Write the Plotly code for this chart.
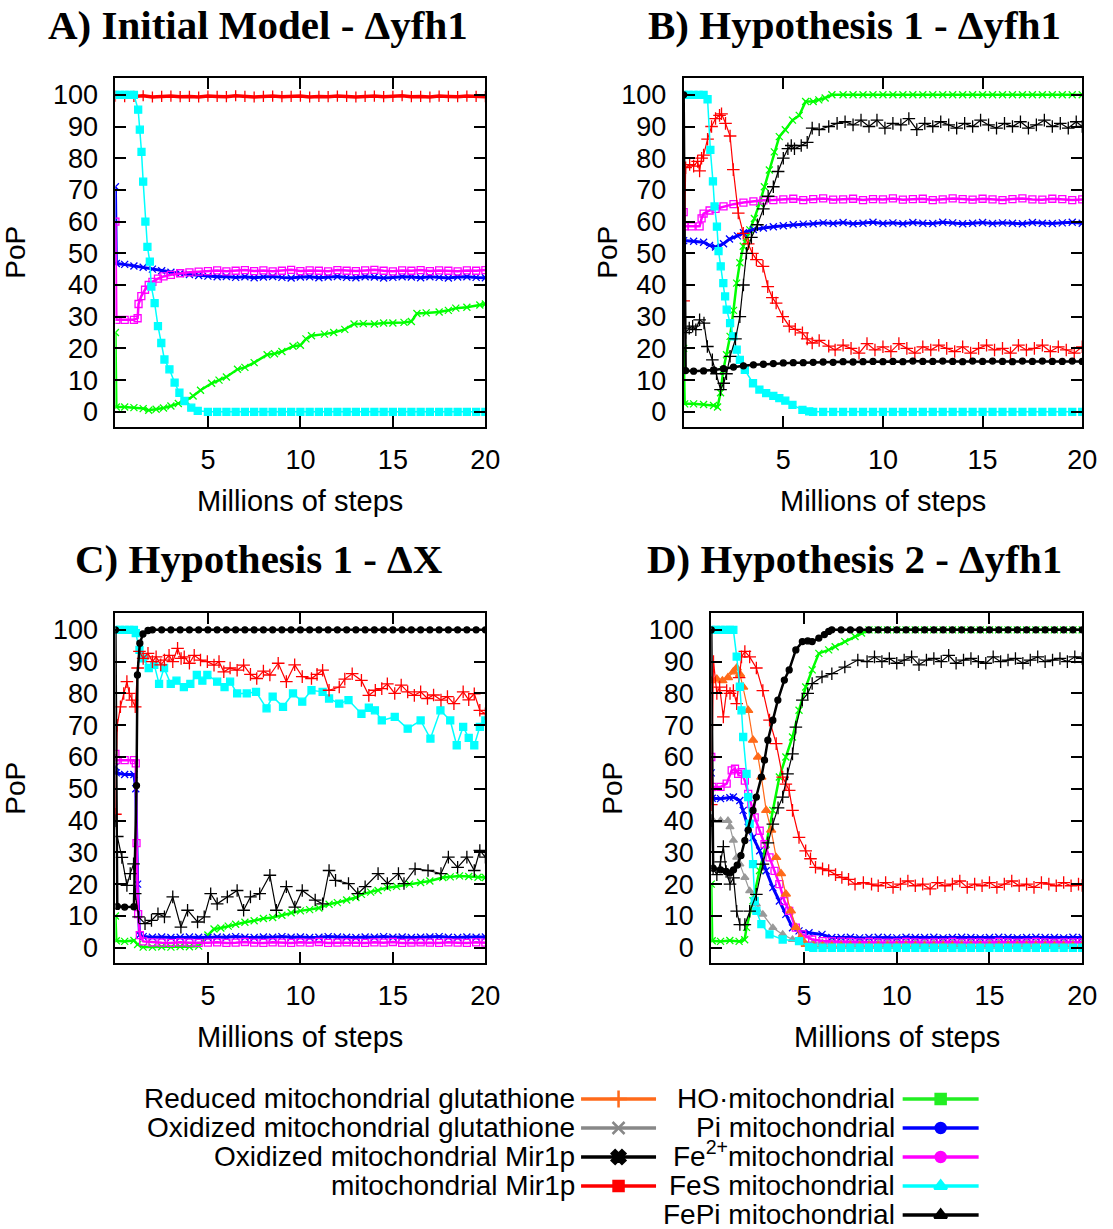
import plotly.graph_objects as go

W, H = 1113, 1229

# ---------------- shared x grid (half-million-step sampling) ----------------
X_HALF = [0, 0.5, 1, 1.5, 2, 2.5, 3, 3.5, 4, 4.5, 5, 5.5, 6, 6.5, 7, 7.5, 8, 8.5, 9, 9.5,
          10, 10.5, 11, 11.5, 12, 12.5, 13, 13.5, 14, 14.5, 15, 15.5, 16, 16.5, 17, 17.5,
          18, 18.5, 19, 19.5, 20]
X_TICKS = [5, 10, 15, 20]
Y_TICKS = [0, 10, 20, 30, 40, 50, 60, 70, 80, 90, 100]

# ---------------- Panel A : Initial Model - Δyfh1 ----------------
A_red_x = X_HALF
A_red_y = [99.6, 99.4, 99.5, 99.7, 99.3, 99.5, 99.6, 99.4, 99.5, 99.3,
           99.6, 99.5, 99.4, 99.7, 99.5, 99.3, 99.5, 99.6, 99.4, 99.5,
           99.6, 99.3, 99.5, 99.4, 99.6, 99.5, 99.3, 99.5, 99.6, 99.4,
           99.5, 99.7, 99.4, 99.5, 99.3, 99.6, 99.5, 99.4, 99.6, 99.5, 99.4]
A_cyan_x = [0, 0.25, 0.5, 0.75, 1.0, 1.23, 1.32, 1.41, 1.5, 1.62, 1.73, 1.86, 1.94, 2.12, 2.3,
            2.48, 2.65, 2.92, 3.2, 3.46, 3.73, 4.1, 4.45] + X_HALF[10:]
A_cyan_y = [100, 100, 100, 100, 100, 95.3, 89, 82, 72.6, 60, 52, 47.4, 39.5, 34.3, 27,
            21.7, 16.5, 13.4, 9.2, 6, 3.4, 1.3, 0.3,
            0, 0, 0, 0, 0, 0, 0, 0, 0, 0, 0, 0, 0, 0, 0, 0, 0, 0, 0, 0, 0, 0, 0, 0, 0, 0, 0, 0, 0, 0, 0]
A_blue_x = [0, 0.05] + X_HALF[1:]
A_blue_y = [71, 46.8, 46.5, 46.0, 45.6, 45.0, 44.5, 44.0, 43.6, 43.3, 43.0,
            42.8, 42.6, 42.7, 42.4, 42.6, 42.3, 42.5, 42.7, 42.4, 42.2, 42.5, 42.6, 42.3, 42.5,
            42.7, 42.4, 42.3, 42.6, 42.5, 42.2, 42.4, 42.6, 42.5, 42.3, 42.6, 42.4, 42.2, 42.5,
            42.6, 42.4, 42.3]
A_mag_x = [0, 0.05, 0.5, 1.0, 1.2, 1.25, 1.4, 1.6, 1.8, 2.0, 2.3, 2.6, 3.0, 3.5, 4.0, 4.5] + X_HALF[10:]
A_mag_y = [60, 29, 29, 29, 29.5, 34, 36.5, 38.5, 40, 41, 42, 42.7, 43.2, 43.7, 44, 44.2,
           44.4, 44.6, 44.3, 44.5, 44.7, 44.4, 44.6, 44.3, 44.5, 44.8, 44.4, 44.6, 44.5, 44.3,
           44.7, 44.5, 44.4, 44.6, 44.8, 44.5, 44.3, 44.6, 44.5, 44.7, 44.4, 44.6, 44.5, 44.3,
           44.6, 44.5, 44.7]
A_green_x = [0, 0.05, 0.5, 1, 1.5, 1.8, 2.2, 2.6, 3.0, 3.4, 3.8, 4.2, 4.6, 5.2, 5.6, 6.0, 6.6,
             7.0, 7.5, 8.2, 8.6, 9.0, 9.6, 10.0, 10.3, 10.6, 11.3, 11.8, 12.4, 12.9, 13.4, 14.0,
             14.5, 15.0, 15.6, 16.0, 16.3, 16.8, 17.5, 18.0, 18.4, 19.0, 19.7, 20]
A_green_y = [25, 1.5, 1.5, 1.3, 1.0, 0.5, 0.8, 1.2, 1.8, 2.6, 3.5, 5, 6.8, 9, 10, 11, 13.4,
             14, 15.5, 18, 18.3, 19, 20.7, 21, 23, 24, 24.5, 25, 26, 27.7, 27.8, 27.7,
             28, 28, 28.2, 28.5, 31, 31.2, 31.5, 32, 32.7, 33, 33.7, 34]

# ---------------- Panel B : Hypothesis 1 - Δyfh1 ----------------
B_cyan_x = [0, 0.25, 0.5, 0.75, 1.0, 1.2, 1.34, 1.47, 1.55, 1.67, 1.75, 1.86, 1.99, 2.08, 2.16,
            2.33, 2.49, 2.66, 2.82, 3.07, 3.48, 3.8, 4.14, 4.5, 4.8, 5.1, 5.46, 5.96, 6.3] + X_HALF[13:]
B_cyan_y = [100, 100, 100, 100, 100, 98.6, 82.6, 72.7, 64.8, 58.4, 50.7, 45.9, 40.6, 36.4, 32.2,
            28, 23.8, 19.6, 16.4, 13.2, 9, 7, 5.9, 5, 4.3, 3.5, 2.2, 0.6, 0.1,
            0, 0, 0, 0, 0, 0, 0, 0, 0, 0, 0, 0, 0, 0, 0, 0, 0, 0, 0, 0, 0, 0, 0, 0, 0, 0, 0, 0]
B_red_x = [0, 0.1, 0.3, 0.5, 0.7, 0.8, 0.9, 1.0, 1.2, 1.4, 1.6, 1.8, 1.9, 2.1, 2.33, 2.49, 2.74,
           2.99, 3.24, 3.45, 3.65, 3.98, 4.22, 4.45, 4.64, 4.97, 5.3, 5.6, 5.96, 6.2, 6.45, 6.8,
           7.28, 7.6, 8, 8.4, 8.8, 9.2, 9.6, 10, 10.4, 10.8, 11.2, 11.6, 12, 12.4, 12.8, 13.2,
           13.6, 14, 14.4, 14.8, 15.2, 15.6, 16, 16.4, 16.8, 17.2, 17.6, 18, 18.4, 18.8, 19.2,
           19.6, 20]
B_red_y = [35, 77, 78, 77.5, 79, 76, 80, 81, 86, 90, 92.5, 93.5, 94, 91, 87, 76.4, 62.7,
           56.3, 53, 50, 48, 45.9, 39.5, 36, 34.3, 30, 27, 26, 24.9, 23, 21.7, 22.5,
           20.7, 19.5, 21, 20, 18.5, 21.5, 19.5, 20.5, 19, 21.5, 20, 18.5, 20.5, 19.5, 21, 20,
           19, 20.5, 18.5, 20, 21, 19.5, 20, 18.5, 21, 19.5, 20, 21, 19, 20.5, 19.5,
           18.5, 20.5]
B_mag_x = [0, 0.05, 0.4, 0.8, 0.9, 1.0, 1.3, 1.6, 2.0, 2.5, 3.0, 3.5, 4.0, 4.5] + X_HALF[10:]
B_mag_y = [63, 58.5, 58.5, 58.5, 61, 62.5, 63.5, 64, 64.8, 65.5, 66, 66.4, 66.7, 66.8,
           67.0, 67.2, 66.8, 67.1, 67.3, 66.9, 67.0, 67.2, 66.8, 67.1, 67.0, 67.3, 66.9, 67.1,
           67.2, 66.8, 67.0, 67.3, 67.1, 66.9, 67.2, 67.0, 66.8, 67.1, 67.3, 67.0, 66.9, 67.2,
           67.1, 66.8, 67.0]
B_blue_x = [0, 0.5, 1.0, 1.3, 1.6, 2.0, 2.3, 2.7, 3.0, 3.5, 4.0, 4.5] + X_HALF[10:]
B_blue_y = [54, 53.8, 53.5, 52.5, 52, 53, 54.5, 55.5, 56.5, 57.5, 58, 58.4,
            58.7, 59.0, 59.2, 59.3, 59.6, 59.4, 59.7, 59.3, 59.5, 59.8, 59.4, 59.6, 59.3, 59.7,
            59.5, 59.4, 59.8, 59.6, 59.3, 59.5, 59.7, 59.4, 59.6, 59.5, 59.3, 59.7, 59.5, 59.4,
            59.6, 59.8, 59.5]
B_green_x = [0, 0.05, 0.5, 1.0, 1.5, 1.7, 1.85, 1.99, 2.15, 2.33, 2.5, 2.66, 2.82, 2.99, 3.15,
             3.32, 3.55, 3.81, 4.05, 4.3, 4.55, 4.8, 5.1, 5.46, 5.8, 6.12, 6.5, 6.78, 7.1, 7.44] + X_HALF[16:]
B_green_y = [20, 2.5, 2.5, 2.3, 2.0, 1.5, 6, 13.2, 18, 23.8, 32, 40.6, 47, 52.2, 55,
             57.4, 61, 65.8, 71, 76.3, 82, 86.8, 89, 92, 93.5, 97.9, 97.9, 98.4, 99, 100,
             100, 100, 100, 100, 100, 100, 100, 100, 100, 100, 100, 100, 100, 100, 100, 100,
             100, 100, 100, 100, 100, 100, 100, 100, 100]
B_blackp_x = [0, 0.1, 0.28, 0.45, 0.61, 0.8, 1.02, 1.19, 1.44, 1.65, 1.85, 2.01, 2.15, 2.33, 2.6,
              2.82, 3.0, 3.15, 3.4, 3.7, 4.0, 4.24, 4.5, 4.74, 5.0, 5.23, 5.4, 5.56, 5.9, 6.2,
              6.45, 6.8, 7.28, 7.7, 8.1, 8.5, 8.9, 9.3, 9.7, 10.1, 10.5, 10.9, 11.3, 11.7, 12.1,
              12.5, 12.9, 13.3, 13.7, 14.1, 14.5, 14.9, 15.3, 15.7, 16.1, 16.5, 16.9, 17.3, 17.7,
              18.1, 18.5, 18.9, 19.3, 19.7, 20]
B_blackp_y = [40, 25, 26.4, 27, 25.9, 29, 28, 20.6, 16.4, 12, 7, 9, 12, 17.5, 23,
              30, 40, 50, 55, 59, 64, 68, 71, 75.8, 80, 83, 84, 83, 84, 85,
              89.5, 89, 90, 91, 91.5, 90.5, 92, 90, 92, 89.5, 91, 90.5, 92.5, 89, 91,
              90, 91.5, 90.5, 89.5, 91, 90, 92, 90.5, 89.5, 91, 90, 91.5, 89.5, 90.5,
              92, 90, 91, 89.5, 91.5, 90]
B_blackc_x = [0, 0.1, 0.5, 1.0, 1.5, 2.0, 2.5, 3, 3.5, 4, 4.5] + X_HALF[10:]
B_blackc_y = [100, 13, 12.8, 12.9, 13.2, 13.6, 14.1, 14.5, 14.8, 15.0, 15.2,
              15.4, 15.5, 15.5, 15.6, 15.7, 15.6, 15.8, 15.7, 15.8, 15.9, 15.8, 15.9, 15.8, 16.0,
              15.9, 15.9, 16.0, 15.9, 15.8, 16.0, 15.9, 16.0, 15.9, 15.8, 16.0, 15.9, 16.0, 15.9,
              15.9, 16.0, 15.9]

# ---------------- Panel C : Hypothesis 1 - ΔX ----------------
C_blackc_x = [0, 0.1, 0.5, 1.0, 1.14, 1.19, 1.32, 1.49, 1.76, 2.0, 2.5, 3.0, 3.5, 4.0, 4.5] + X_HALF[10:]
C_blackc_y = [100, 13, 12.8, 12.9, 51, 85.8, 95.8, 98.7, 99.8, 100, 100, 100, 100, 100, 100,
              100, 100, 100, 100, 100, 100, 100, 100, 100, 100, 100, 100, 100, 100, 100, 100,
              100, 100, 100, 100, 100, 100, 100, 100, 100, 100, 100, 100, 100, 100, 100]
C_red_x = [0, 0.1, 0.27, 0.45, 0.62, 0.75, 0.89, 1.07, 1.2, 1.3, 1.5, 1.76, 2.0, 2.2, 2.45, 2.65,
           2.9, 3.1, 3.36, 3.55, 3.72, 4.0, 4.26, 4.6, 4.97, 5.33, 5.6, 5.86, 6.2, 6.58, 6.93,
           7.3, 7.64, 8.0, 8.35, 8.8, 9.24, 9.69, 10.1, 10.6, 10.9, 11.2, 11.55, 12.1, 12.4,
           12.8, 13.3, 13.7, 14.05, 14.4, 14.7, 15.1, 15.45, 15.8, 16.16, 16.5, 16.87, 17.2,
           17.6, 17.95, 18.3, 18.8, 19.1, 19.4, 19.7, 20]
C_red_y = [42, 70, 75.8, 80, 83.7, 80, 77.9, 75.8, 88, 93.2, 91, 92.6, 90, 91.5, 89, 90.5,
           92, 90, 94.2, 91, 91.5, 89.5, 92, 90.5, 90, 88.9, 90, 86.8, 88, 87.3, 88.9,
           86, 84.7, 87, 85.8, 89.5, 83.7, 89, 85.3, 84.7, 86, 87.3, 81, 82, 84.5,
           86.2, 84.1, 79.4, 81, 81.5, 83, 80, 82.6, 80.5, 79.4, 80.5, 78.4, 79.5,
           77.9, 79, 76.8, 80.5, 78, 79.9, 74.7, 73.6]
C_cyan_x = [0, 0.25, 0.5, 0.75, 1.0, 1.1, 1.3, 1.5, 1.8, 2.1, 2.36, 2.63, 2.99, 3.3, 3.7, 4.05,
            4.4, 4.7, 4.97, 5.5, 5.9, 6.2, 6.58, 7.1, 7.6, 8.17, 8.5, 9.06, 9.6, 10.1, 10.6,
            11.2, 11.55, 12.1, 12.6, 13.3, 13.7, 14.03, 14.4, 15.1, 15.8, 16.5, 17.03, 17.57,
            18.1, 18.45, 18.8, 19.1, 19.4, 19.7, 20]
C_cyan_y = [100, 100, 100, 100, 100, 99, 93.7, 91, 88, 89, 83, 88, 83, 84, 82, 83,
            85.8, 84, 85.8, 83.7, 82, 83.7, 80, 80, 80.5, 75.3, 79, 75.8, 80, 77.4, 81,
            80.5, 78.4, 76.8, 77.9, 73.6, 75.5, 74.7, 71.5, 72.6, 68.9, 71.5, 65.8, 74.7,
            71.5, 63.7, 69.5, 66, 63.7, 69.5, 71.5]
C_mag_x = [0, 0.05, 0.5, 1.0, 1.1, 1.14, 1.23, 1.32, 1.5, 2.0, 2.5, 3.0, 3.5, 4.0, 4.5] + X_HALF[10:]
C_mag_y = [61, 59, 59, 59, 58, 32.9, 10.6, 4, 2, 1.7, 1.6, 1.5, 1.7, 1.6, 1.5,
           1.6, 1.7, 1.5, 1.6, 1.8, 1.6, 1.5, 1.7, 1.6, 1.5, 1.7, 1.6, 1.8, 1.5, 1.6, 1.7,
           1.6, 1.5, 1.7, 1.6, 1.8, 1.5, 1.6, 1.7, 1.6, 1.5, 1.7, 1.6, 1.5, 1.7, 1.6]
C_blue_x = [0, 0.05, 0.5, 1.0, 1.1, 1.2, 1.3, 1.5, 2.0, 2.5, 3.0, 3.5, 4.0, 4.5] + X_HALF[10:]
C_blue_y = [57, 55, 54.5, 54.5, 50, 20, 4, 3.5, 3.3, 3.4, 3.2, 3.3, 3.4, 3.3,
            3.2, 3.4, 3.3, 3.5, 3.3, 3.2, 3.4, 3.3, 3.5, 3.3, 3.4, 3.2, 3.3, 3.5, 3.4, 3.3,
            3.2, 3.4, 3.3, 3.5, 3.3, 3.4, 3.2, 3.3, 3.4, 3.5, 3.3, 3.2, 3.4, 3.3, 3.4]
C_green_x = [0, 0.05, 0.5, 1.0, 1.2, 1.5, 2, 2.5, 3, 3.5, 4, 4.5, 5.0, 5.33, 5.7, 6.1, 6.5, 7,
             7.5, 8, 8.5, 9, 9.5, 10, 10.5, 11, 11.55, 12, 12.5, 13, 13.3, 13.8, 14.2, 14.7,
             15.2, 15.9, 16.5, 17, 17.7, 18.1, 18.6, 19.1, 19.6, 20]
C_green_y = [10, 2.2, 2.0, 2.3, 1, 0.2, 0.2, 0.3, 0.2, 0.4, 0.3, 0.5, 4, 5.9, 6.2, 6.8, 7.4, 8,
             8.5, 9.2, 9.5, 10.2, 11, 11.6, 12, 12.5, 13.7, 14.2, 15, 15.8, 16.8, 17.5, 18, 18.9,
             19.3, 20, 20.5, 21, 22.1, 22.3, 22.6, 22.4, 22.2, 22.1]
C_blackp_x = [0, 0.1, 0.35, 0.62, 0.8, 0.98, 1.07, 1.25, 1.6, 1.95, 2.3, 2.65, 3.1, 3.54, 3.9,
              4.44, 4.8, 5.15, 5.5, 6.05, 6.58, 6.93, 7.3, 7.8, 8.35, 8.7, 9.24, 9.7, 10.1, 10.8,
              11.2, 11.55, 11.9, 12.6, 13.1, 13.5, 14.2, 14.7, 15.3, 15.6, 16.2, 16.9, 17.6,
              18.0, 18.5, 19.0, 19.4, 19.7, 20]
C_blackp_y = [40, 35, 28.4, 19.6, 23.3, 26.4, 17, 9.7, 7.6, 8.6, 10.7, 9.7, 16, 6.5, 11.8,
              8.1, 9.7, 17, 13.8, 16, 18, 11.8, 16, 17, 22.8, 11.8, 19.2, 12.8, 18, 15,
              13.8, 24.3, 21.2, 20.2, 17, 19.2, 23.3, 20.2, 23.3, 20.2, 24.8, 24.3, 23.3,
              28.5, 25.3, 28.5, 24.3, 30.6, 28.5]

# ---------------- Panel D : Hypothesis 2 - Δyfh1 ----------------
D_blackc_x = [0, 0.1, 0.5, 0.8, 1.0, 1.2, 1.4, 1.6, 1.81, 1.99, 2.25, 2.43, 2.7, 2.87, 3.05,
              3.32, 3.59, 3.94, 4.2, 4.56, 4.91, 5.2, 5.44, 5.8, 6.1, 6.33, 6.5] + X_HALF[14:]
D_blackc_y = [100, 25, 24.5, 24, 23.5, 24.5, 26, 29, 33.7, 37, 43.2, 47.4, 53.7, 59, 65.3,
              71.6, 77.9, 84.2, 87.4, 93.7, 96.3, 96.5, 96.3, 97.4, 98.5, 99.5, 100,
              100, 100, 100, 100, 100, 100, 100, 100, 100, 100, 100, 100, 100, 100, 100, 100,
              100, 100, 100, 100, 100, 100, 100, 100, 100, 100, 100]
D_blackp_x = [0, 0.1, 0.3, 0.5, 0.65, 0.8, 1.01, 1.2, 1.37, 1.54, 1.81, 2.07, 2.43, 2.78, 3.05,
              3.32, 3.6, 3.85, 4.11, 4.38, 4.56, 4.91, 5.2, 5.44, 5.97, 6.5, 7.2, 7.9, 8.4, 8.8,
              9.2, 9.6, 10.0, 10.4, 10.8, 11.2, 11.6, 12.0, 12.4, 12.8, 13.2, 13.6, 14.0, 14.4,
              14.8, 15.2, 15.6, 16.0, 16.4, 16.8, 17.2, 17.6, 18.0, 18.4, 18.8, 19.2, 19.6, 20.0]
D_blackp_y = [40, 25, 23, 27, 31.8, 24, 20, 22, 11.5, 7.3, 7.3, 11.5, 16.8, 26.3, 33,
              38.9, 44, 47.4, 54.7, 61, 69.4, 77.9, 80, 83.1, 85.2, 86.2, 88.3, 90.5, 90, 91.5,
              90, 91, 89.5, 90.5, 91.5, 89, 90.5, 91, 90, 92, 89.5, 90.5, 91, 90,
              89.5, 91.5, 90, 90.5, 91, 89.5, 90.5, 91.5, 90, 90.5, 91, 90, 91.5, 91]
D_green_x = [0, 0.05, 0.5, 1.0, 1.5, 1.8, 1.9, 2.25, 2.6, 2.96, 3.32, 3.67, 4.02, 4.38, 4.73,
             5.09, 5.44, 5.8, 6.33, 6.68, 7.2, 7.75, 8.1, 8.5] + X_HALF[18:]
D_green_y = [20, 2.2, 2.0, 2.3, 2.0, 2.5, 6.4, 14.8, 24.3, 32.6, 43.2, 53.7, 60, 66.3, 74.7,
             82, 87.4, 92.6, 93.7, 94.7, 96.3, 97.9, 99, 100,
             100, 100, 100, 100, 100, 100, 100, 100, 100, 100, 100, 100, 100, 100, 100, 100,
             100, 100, 100, 100, 100, 100, 100]
D_red_x = [0, 0.12, 0.3, 0.45, 0.65, 0.83, 1.01, 1.19, 1.37, 1.5, 1.63, 1.81, 2.07, 2.43, 2.78,
           3.14, 3.5, 3.85, 4.02, 4.2, 4.38, 4.73, 5.09, 5.35, 5.62, 6.0, 6.33, 6.7, 7.04, 7.4,
           7.75, 8.2, 8.64, 9.0, 9.4, 9.8, 10.2, 10.6, 11.0, 11.4, 11.8, 12.2, 12.6, 13.0, 13.4,
           13.8, 14.2, 14.6, 15.0, 15.4, 15.8, 16.2, 16.6, 17.0, 17.4, 17.8, 18.2, 18.6, 19.0,
           19.4, 19.8, 20]
D_red_y = [45, 90, 80, 82, 72.6, 80.9, 80, 80.9, 76.8, 85, 91.5, 93.2, 91.5, 88, 80.9,
           71.6, 64.2, 53.7, 51.5, 49.5, 43.2, 34.7, 30.5, 28, 25.3, 24.8, 24.3, 23, 22.1, 21.5,
           20, 20.5, 20, 19.5, 20.5, 19, 20, 21, 19.5, 20, 18.5, 20.5, 19.5, 20, 21,
           19, 20, 19.5, 20.5, 19, 20, 21, 19.5, 20, 19, 20.5, 20, 19.5, 20.5,
           19.5, 20, 19.6]
D_orange_x = [0, 0.3, 0.6, 0.9, 1.19, 1.37, 1.55, 1.72, 1.99, 2.25, 2.52, 2.7, 2.96, 3.23, 3.5,
              3.76, 4.02, 4.29, 4.56, 4.82, 5.09, 5.5] + X_HALF[12:]
D_orange_y = [84, 84.5, 84, 85, 86.8, 88, 86, 82, 74.7, 65.3, 60, 53.7, 43.2, 37, 28.4,
              23.3, 16.9, 11.6, 6.4, 3.2, 1.1, 0.6,
              0.5, 0.5, 0.5, 0.5, 0.5, 0.5, 0.5, 0.5, 0.5, 0.5, 0.5, 0.5, 0.5, 0.5, 0.5, 0.5,
              0.5, 0.5, 0.5, 0.5, 0.5, 0.5, 0.5, 0.5, 0.5, 0.5, 0.5, 0.5, 0.5]
D_gray_x = [0, 0.1, 0.5, 0.9, 1.01, 1.19, 1.37, 1.54, 1.81, 2.07, 2.43, 2.78, 3.32, 3.85, 4.38,
            4.91, 5.5] + X_HALF[12:]
D_gray_y = [50, 40, 40, 40, 38, 33.8, 28.4, 26.3, 22.1, 17.9, 13.7, 10.5, 6.3, 4.2, 2.6,
            2.1, 1.6,
            1.5, 1.5, 1.4, 1.5, 1.5, 1.4, 1.5, 1.5, 1.4, 1.5, 1.5, 1.4, 1.5, 1.5, 1.4, 1.5,
            1.5, 1.4, 1.5, 1.5, 1.4, 1.5, 1.5, 1.4, 1.5, 1.5, 1.4, 1.5, 1.5]
D_mag_x = [0, 0.05, 0.5, 0.83, 1.1, 1.28, 1.45, 1.63, 1.81, 1.99, 2.16, 2.34, 2.61, 2.87, 3.14,
           3.41, 3.67, 3.94, 4.2, 4.56, 4.91, 5.44] + X_HALF[12:]
D_mag_y = [60, 50.6, 50.6, 51.6, 55.8, 56.3, 54.7, 55.2, 52.6, 48.4, 45.2, 41, 36.8, 32.6, 28.4,
           24.2, 20, 14.7, 11.6, 6.3, 4.2, 2.6,
           2.1, 2.0, 1.9, 1.8, 1.7, 1.8, 1.7, 1.6, 1.7, 1.8, 1.7, 1.6, 1.7, 1.7, 1.8, 1.6,
           1.7, 1.7, 1.6, 1.8, 1.7, 1.6, 1.7, 1.8, 1.7, 1.6, 1.7, 1.7, 1.7]
D_blue_x = [0, 0.05, 0.5, 1.0, 1.19, 1.54, 1.72, 1.99, 2.25, 2.61, 2.96, 3.32, 3.67, 4.02, 4.38,
            4.73, 5.27, 5.97, 6.5] + X_HALF[14:]
D_blue_y = [55, 47, 46.9, 47.2, 47.4, 46.3, 43.2, 37.9, 34.7, 30.5, 24.2, 18.9, 14.7, 10.5, 6.3,
            5.3, 4.7, 4.2, 3.2,
            3.2, 3.3, 3.1, 3.2, 3.3, 3.2, 3.1, 3.3, 3.2, 3.2, 3.3, 3.1, 3.2, 3.3, 3.2, 3.1,
            3.2, 3.3, 3.2, 3.1, 3.2, 3.3, 3.2, 3.2, 3.1, 3.3, 3.2]
D_cyan_x = [0, 0.25, 0.5, 0.75, 1.0, 1.19, 1.37, 1.54, 1.63, 1.72, 1.9, 1.99, 2.07, 2.25, 2.34,
            2.43, 2.7, 3.14, 3.85, 4.73, 5.27] + X_HALF[11:]
D_cyan_y = [100, 100, 100, 100, 100, 100, 91.6, 82.1, 74.7, 66.3, 54.7, 47.4, 39, 26.3, 14.7,
            11.6, 7.4, 4.2, 2.6, 2.1, 0.3,
            0, 0, 0, 0, 0, 0, 0, 0, 0, 0, 0, 0, 0, 0, 0, 0, 0, 0, 0, 0, 0, 0, 0, 0, 0, 0, 0, 0, 0, 0]

# ---------------- titles / legend text ----------------
PANEL_TITLES = ["A) Initial Model - Δyfh1", "B) Hypothesis 1 - Δyfh1",
                "C) Hypothesis 1 - ΔX", "D) Hypothesis 2 - Δyfh1"]
X_TITLE = "Millions of steps"
Y_TITLE = "PoP"
LEGEND_LEFT = ["Reduced mitochondrial glutathione", "Oxidized mitochondrial glutathione",
               "Oxidized mitochondrial Mir1p", "mitochondrial Mir1p"]
LEGEND_RIGHT = ["HO·mitochondrial", "Pi mitochondrial", "Fe<sup>2+</sup>mitochondrial",
                "FeS mitochondrial", "FePi mitochondrial"]

# ---------------- styles ----------------
RED, GREEN, BLUE, MAG, CYAN, BLACK = "#ff0000", "#00ff00", "#0000ff", "#ff00ff", "#00ffff", "#000000"
ORANGE, GRAY = "#ff6a1a", "#999999"

STYLE = {
    "red":    dict(color=RED, symbol="cross-thin", size=9, lw=1.2),
    "red_f":  dict(color=RED, symbol="cross-thin", size=8, lw=3.5),
    "blackp": dict(color=BLACK, symbol="cross-thin", size=9, lw=1.2),
    "cyan":   dict(color=CYAN, symbol="square", size=7, lw=1.5),
    "mag":    dict(color=MAG, symbol="square-open", size=7, lw=2.5),
    "blue":   dict(color=BLUE, symbol="x-thin", size=7, lw=3),
    "green":  dict(color=GREEN, symbol="x-thin", size=7, lw=2.5),
    "blackc": dict(color=BLACK, symbol="circle", size=6, lw=2.5),
    "orange": dict(color=ORANGE, symbol="triangle-up", size=8, lw=1.2),
    "gray":   dict(color=GRAY, symbol="triangle-up", size=7, lw=1.2),
}

PANELS = [
    [("green", A_green_x, A_green_y), ("blue", A_blue_x, A_blue_y), ("mag", A_mag_x, A_mag_y),
     ("red_f", A_red_x, A_red_y), ("cyan", A_cyan_x, A_cyan_y)],
    [("green", B_green_x, B_green_y), ("blue", B_blue_x, B_blue_y), ("mag", B_mag_x, B_mag_y),
     ("red", B_red_x, B_red_y), ("cyan", B_cyan_x, B_cyan_y), ("blackp", B_blackp_x, B_blackp_y),
     ("blackc", B_blackc_x, B_blackc_y)],
    [("green", C_green_x, C_green_y), ("blue", C_blue_x, C_blue_y), ("mag", C_mag_x, C_mag_y),
     ("cyan", C_cyan_x, C_cyan_y), ("red", C_red_x, C_red_y), ("blackp", C_blackp_x, C_blackp_y),
     ("blackc", C_blackc_x, C_blackc_y)],
    [("green", D_green_x, D_green_y), ("gray", D_gray_x, D_gray_y), ("blue", D_blue_x, D_blue_y),
     ("mag", D_mag_x, D_mag_y), ("orange", D_orange_x, D_orange_y), ("red", D_red_x, D_red_y),
     ("cyan", D_cyan_x, D_cyan_y), ("blackp", D_blackp_x, D_blackp_y),
     ("blackc", D_blackc_x, D_blackc_y)],
]

# plot-area boxes in pixels (left, right, top, bottom)
BOXES = [(117, 492, 78, 427), (693, 1097, 78, 427), (117, 492, 613, 963), (721, 1097, 613, 963)]
TITLE_POS = [(262, 0), (866, 0), (263, 534), (866, 534)]
YT_POS = [(15, 252), (615, 252), (15, 788), (620, 788)]


def fx(p):
    return p / W


def fy(p):
    return 1 - p / H


fig = go.Figure()
SANS = "Liberation Sans, Arial, Helvetica, sans-serif"
SERIF = "Liberation Serif, Times New Roman, serif"

for i, series in enumerate(PANELS):
    n = "" if i == 0 else str(i + 1)
    for key, xs, ys in series:
        st = STYLE[key]
        fig.add_trace(go.Scatter(
            x=xs, y=ys, mode="lines+markers", xaxis="x" + n, yaxis="y" + n,
            line=dict(color=st["color"], width=st["lw"]),
            marker=dict(symbol=st["symbol"], size=st["size"], color=st["color"],
                        line=dict(color=st["color"], width=1.3)),
            showlegend=False, hoverinfo="skip", cliponaxis=True))
    l, r, t, b = BOXES[i]
    common = dict(showline=True, linewidth=2, linecolor="black", mirror="ticks",
                  ticks="inside", ticklen=11, tickwidth=2, tickcolor="black",
                  showgrid=False, zeroline=False,
                  tickfont=dict(family=SANS, size=27, color="black"))
    fig.update_layout(**{
        "xaxis" + n: dict(domain=[fx(l), fx(r)], range=[0, 20], tickvals=X_TICKS,
                          anchor="y" + n, ticklabelstandoff=8, **common),
        "yaxis" + n: dict(domain=[fy(b), fy(t)], range=[-4.8, 105.3], tickvals=Y_TICKS,
                          anchor="x" + n, ticklabelstandoff=10, **common),
    })
    # panel title
    tx, ty = TITLE_POS[i]
    fig.add_annotation(x=fx(tx), y=fy(ty), xref="paper", yref="paper", showarrow=False,
                       text="<b>" + PANEL_TITLES[i] + "</b>", xanchor="center", yanchor="top",
                       font=dict(family=SERIF, size=41, color="black"))
    # x title
    fig.add_annotation(x=fx((l + r) / 2), y=fy(b + 74), xref="paper", yref="paper",
                       showarrow=False, text=X_TITLE, xanchor="center", yanchor="middle",
                       font=dict(family=SANS, size=29, color="black"))
    # y title
    yx, yy = YT_POS[i]
    fig.add_annotation(x=fx(yx), y=fy(yy), xref="paper", yref="paper", showarrow=False,
                       text=Y_TITLE, textangle=-90, xanchor="center", yanchor="middle",
                       font=dict(family=SANS, size=28, color="black"))

# ---------------- custom legend (text right-aligned, sample on the right) ----------------
fig.update_layout(
    xaxis5=dict(domain=[0, 1], range=[0, W], visible=False, anchor="y5"),
    yaxis5=dict(domain=[0, 1], range=[H, 0], visible=False, anchor="x5"),
)
LEG_ROWS = [1099, 1128, 1157, 1186, 1215]
LEG_LEFT_STYLE = [(ORANGE, "cross-thin", 12), ("#888888", "x-thin", 12),
                  (BLACK, "x", 12), (RED, "square", 10)]
LEG_RIGHT_STYLE = [("#22ee22", "square", 10), (BLUE, "circle", 10), (MAG, "circle", 10),
                   (CYAN, "triangle-up", 11), (BLACK, "triangle-up", 11)]
COLS = [(585, 589, 665, LEGEND_LEFT, LEG_LEFT_STYLE), (909, 915, 992, LEGEND_RIGHT, LEG_RIGHT_STYLE)]
for text_r, x0, x1, labels, styles in COLS:
    for j, (lab, (c, sym, sz)) in enumerate(zip(labels, styles)):
        yr = LEG_ROWS[j]
        fig.add_annotation(x=fx(text_r), y=fy(yr + 17), xref="paper", yref="paper", showarrow=False,
                           text=lab, xanchor="right", yanchor="bottom",
                           font=dict(family=SANS, size=28, color="black"))
        fig.add_trace(go.Scatter(x=[x0, x1], y=[yr, yr], mode="lines", xaxis="x5", yaxis="y5",
                                 line=dict(color=c, width=3.5), showlegend=False, hoverinfo="skip"))
        fig.add_trace(go.Scatter(x=[(x0 + x1) / 2], y=[yr], mode="markers", xaxis="x5", yaxis="y5",
                                 marker=dict(symbol=sym, size=sz, color=c, line=dict(color=c, width=2.5)),
                                 showlegend=False, hoverinfo="skip"))

fig.update_layout(width=W, height=H, autosize=False, margin=dict(l=0, r=0, t=0, b=0),
                  paper_bgcolor="white", plot_bgcolor="rgba(0,0,0,0)", showlegend=False)

fig.write_html(
    "out.html",
    config={"displayModeBar": False, "responsive": False},
    post_script=("document.documentElement.style.margin='0px';"
                 "document.documentElement.style.overflow='hidden';"
                 "document.body.style.margin='0px';"
                 "document.body.style.overflow='hidden';"),
)
